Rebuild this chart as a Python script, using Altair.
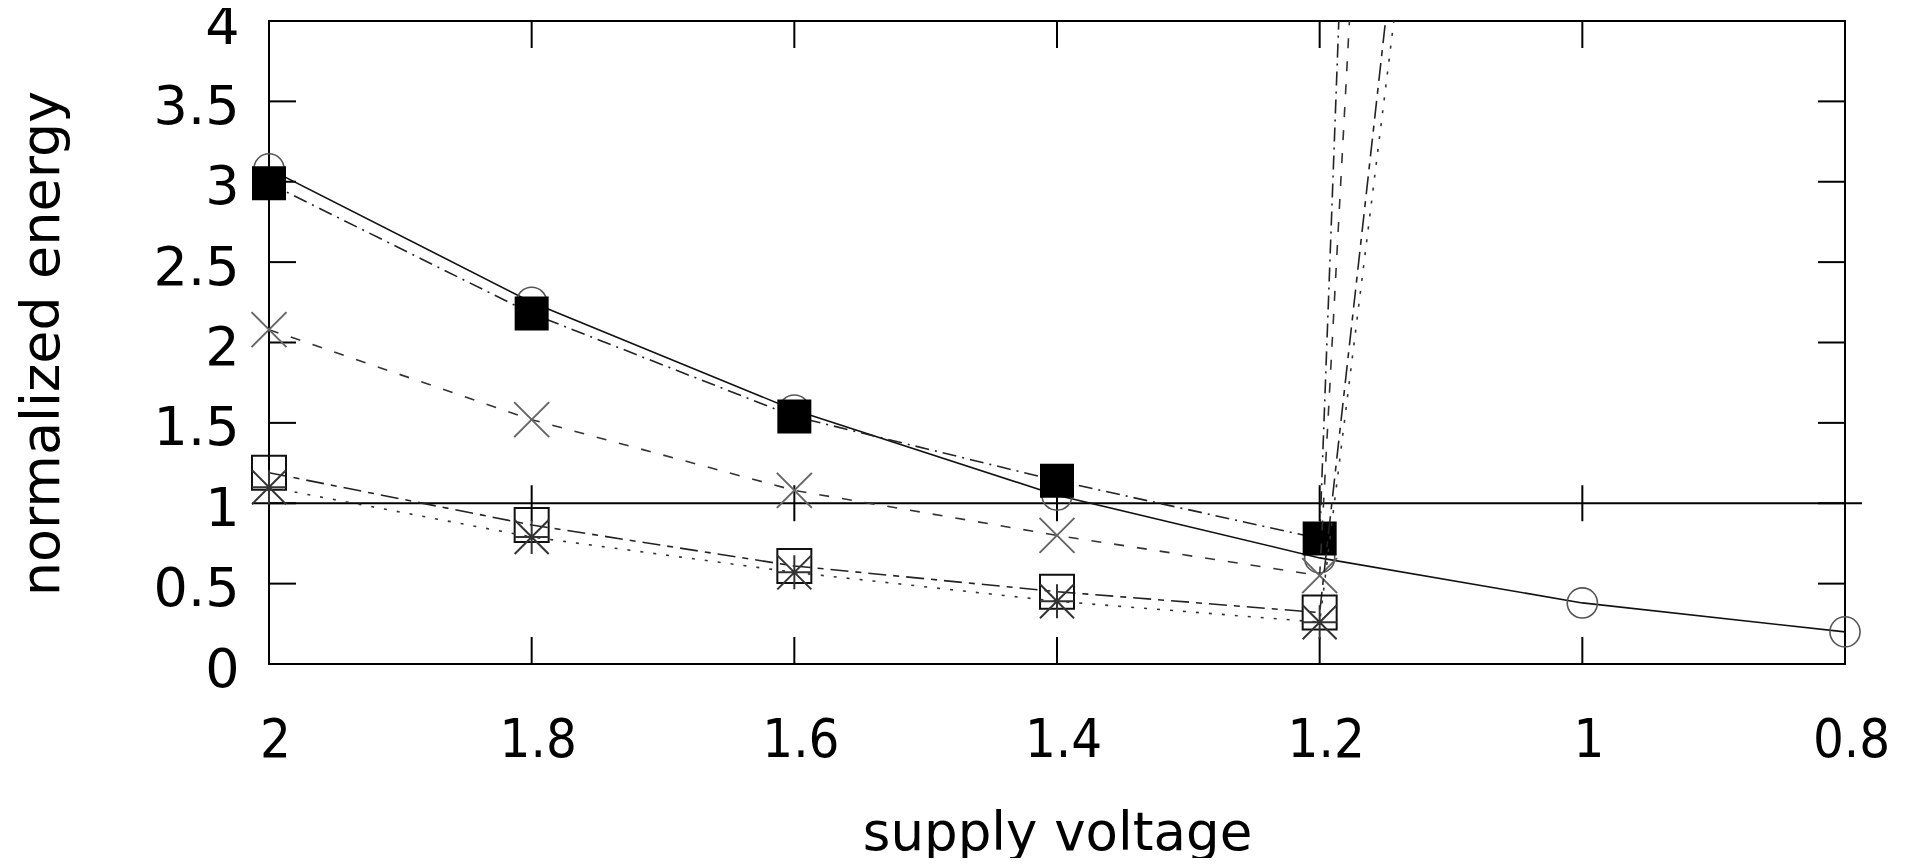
import altair as alt
import pandas as pd

# ---- data ----
volts = [2.0, 1.8, 1.6, 1.4, 1.2, 1.0, 0.8]
circle_vals = [3.08, 2.25, 1.58, 1.05, 0.66, 0.38, 0.20]
filled_sq_vals = [2.99, 2.18, 1.54, 1.14, 0.78, 45.0]
cross_vals = [2.08, 1.52, 1.08, 0.80, 0.55, 31.0]
open_sq_vals = [1.19, 0.865, 0.61, 0.45, 0.32, 15.0]
star_vals = [1.10, 0.79, 0.57, 0.39, 0.26, 13.5]

x_ticks = [2.0, 1.8, 1.6, 1.4, 1.2, 1.0, 0.8]
y_ticks = [0, 0.5, 1, 1.5, 2, 2.5, 3, 3.5, 4]
ref_level = [1.0]

W, H = 1576, 643
FONT = "DejaVu Sans"
XFONT = "DejaVu Sans Condensed, DejaVu Sans"

xs = alt.Scale(domain=[0.8, 2.0], reverse=True, nice=False, zero=False)
ys = alt.Scale(domain=[0, 4], nice=False, zero=False)


def X():
    return alt.X("v:Q", scale=xs, axis=alt.Axis(
        values=x_ticks, format="~g", title="supply voltage", grid=False,
        domain=False, ticks=False, tickSize=0, labelPadding=49, labelOffset=6,
        labelFlush=False, labelFontSize=54, labelFont=XFONT, labelColor="black",
        titleFont=FONT, titleFontSize=53, titleFontWeight="normal", titleColor="black",
        titleBaseline="alphabetic", titleY=185))


def Y():
    return alt.Y("e:Q", scale=ys, axis=alt.Axis(
        values=y_ticks, format="~g", title="normalized energy", grid=False,
        domain=False, ticks=False, tickSize=0, labelPadding=30, labelOffset=6,
        labelFlush=False, labelFontSize=54, labelFont=FONT, labelColor="black",
        titleFont=FONT, titleFontSize=54, titleFontWeight="normal", titleColor="black",
        titleAngle=270, titleAlign="center", titleBaseline="alphabetic",
        titleX=-211, titleY=322))


def series_df(vals):
    return pd.DataFrame({"v": volts[:len(vals)], "e": vals})


xt_df = pd.DataFrame({"v": x_ticks})
yt_df = pd.DataFrame({"e": y_ticks[1:-1]})
ref_df = pd.DataFrame({"e": ref_level})
ref_ticks_df = pd.DataFrame({"v": x_ticks[1:-1], "e": ref_level * len(x_ticks[1:-1])})

layers = []

# reference line at 1 with crossing ticks
layers.append(alt.Chart(ref_df).mark_rule(color="black", strokeWidth=2).encode(
    y=Y(), x=alt.value(-17), x2=alt.value(W + 17)))
layers.append(alt.Chart(ref_ticks_df).mark_tick(orient="vertical", size=36, thickness=2,
                                                color="black", opacity=1).encode(x=X(), y=Y()))

# inward border ticks (gnuplot style, mirrored)
layers.append(alt.Chart(yt_df).mark_rule(color="black", strokeWidth=2).encode(
    y=Y(), x=alt.value(0), x2=alt.value(27)))
layers.append(alt.Chart(yt_df).mark_rule(color="black", strokeWidth=2).encode(
    y=Y(), x=alt.value(W - 27), x2=alt.value(W)))
layers.append(alt.Chart(xt_df).mark_rule(color="black", strokeWidth=2).encode(
    x=X(), y=alt.value(H - 27), y2=alt.value(H)))
layers.append(alt.Chart(xt_df).mark_rule(color="black", strokeWidth=2).encode(
    x=X(), y=alt.value(0), y2=alt.value(27)))

X_PATH = "M-1,-1L1,1M-1,1L1,-1"
STAR_PATH = "M-1,-1L1,1M-1,1L1,-1M0,-1L0,1M-1,0L1,0"

series = [
    # vals, line color, dash, marker shape, size, filled, marker color, stroke width
    (circle_vals, "#111111", None, "circle", 908, False, "#555555", 1.6),
    (filled_sq_vals, "#222222", [14, 6, 2, 6], "square", 1156, True, "#000000", 1.5),
    (cross_vals, "#333333", [10, 13], X_PATH, 1225, False, "#666666", 2.0),
    (open_sq_vals, "#222222", [18, 7, 6, 7], "square", 1156, False, "#111111", 2.0),
    (star_vals, "#333333", [3, 10], STAR_PATH, 1156, False, "#333333", 2.0),
]

for vals, lcol, dash, shape, size, filled, mcol, sw in series:
    df = series_df(vals)
    line_kw = dict(clip=True, color=lcol, strokeWidth=1.6)
    if dash is not None:
        line_kw["strokeDash"] = dash
    layers.append(alt.Chart(df).mark_line(**line_kw).encode(x=X(), y=Y()))
    pt_kw = dict(shape=shape, size=size, filled=filled, opacity=1, strokeWidth=sw)
    if filled:
        pt_kw["color"] = mcol
    else:
        pt_kw["stroke"] = mcol
        pt_kw["fill"] = "transparent"
    layers.append(alt.Chart(df).mark_point(**pt_kw).encode(x=X(), y=Y())
                  .transform_filter("datum.e <= 4"))

chart = alt.layer(*layers).properties(
    width=W, height=H,
    autosize=alt.AutoSizeParams(type="none"),
    padding={"left": 261, "top": 13, "right": 54, "bottom": 194},
).configure(background="white").configure_view(stroke="black", strokeWidth=2)

chart.save("out.html", embed_options={"renderer": "svg", "actions": False})
